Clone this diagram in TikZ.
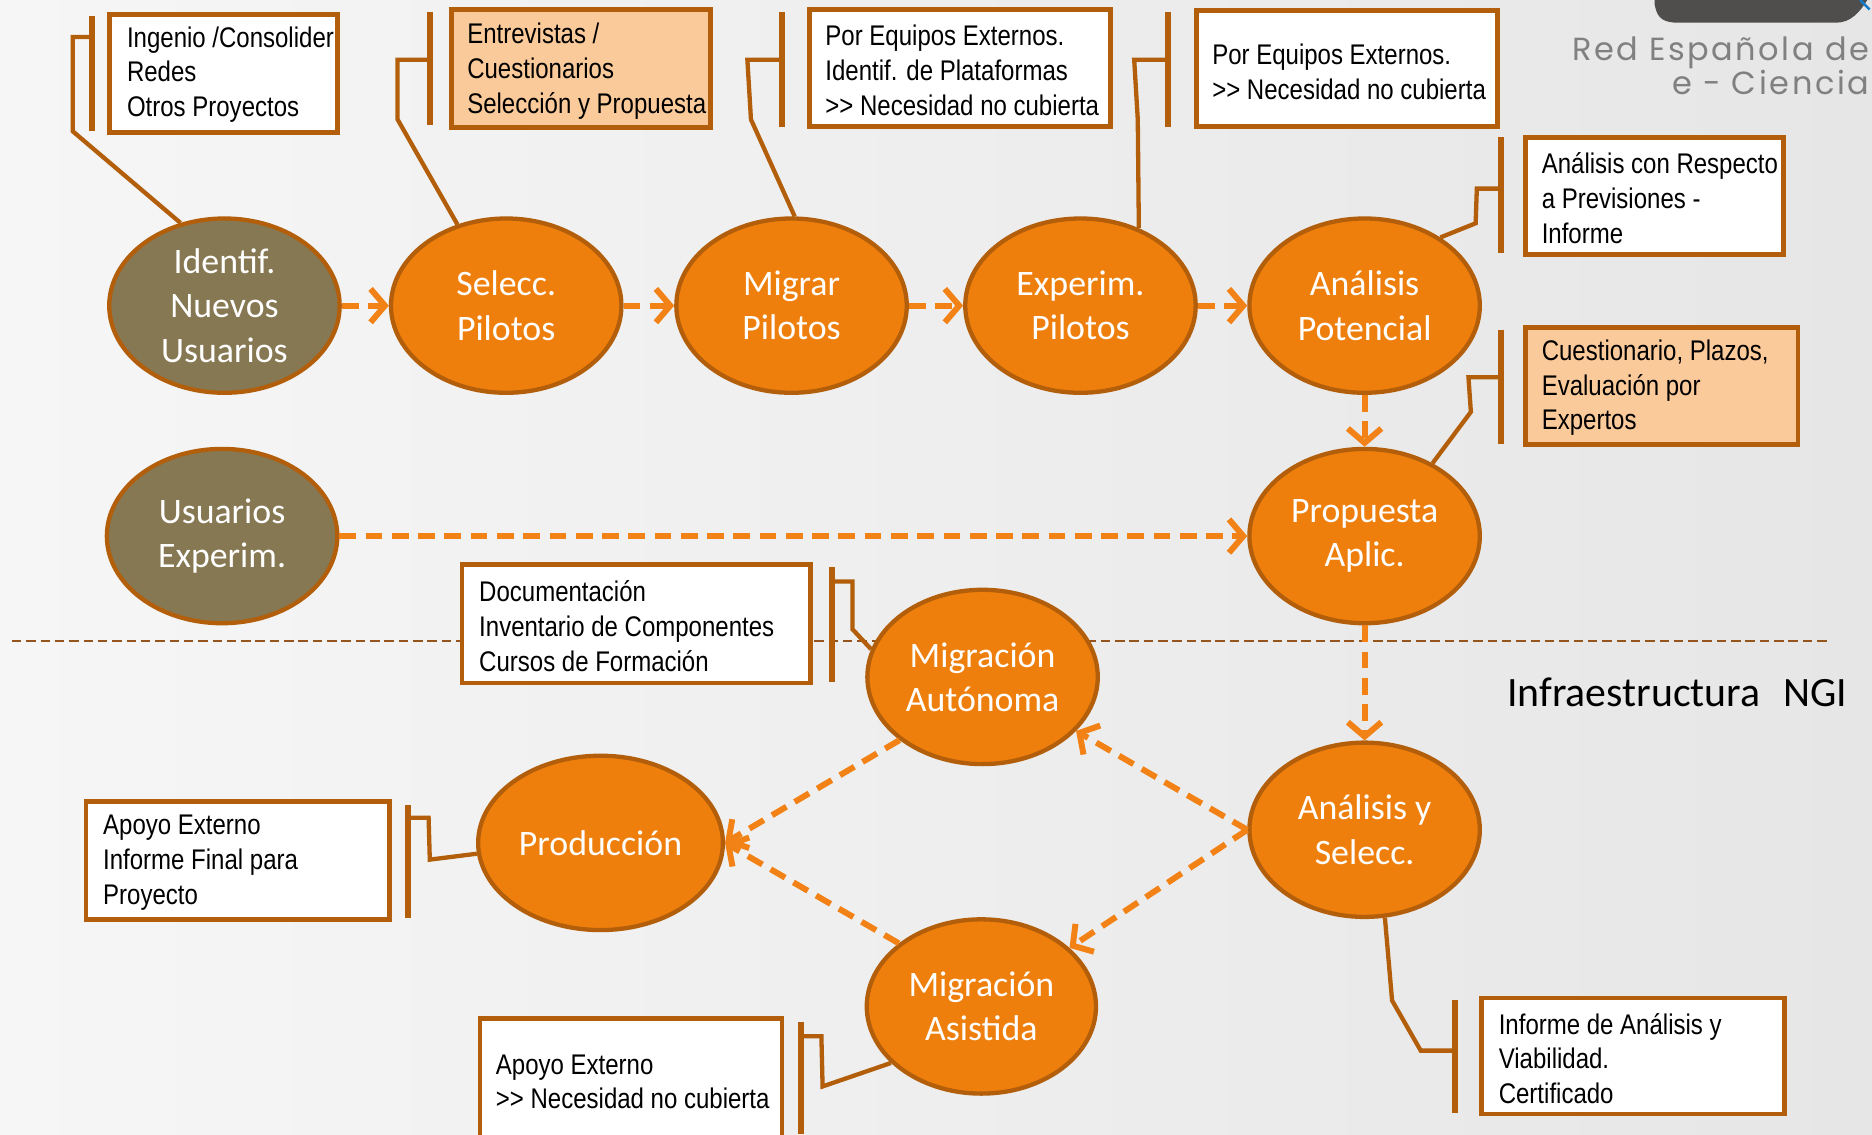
\documentclass[tikz,border=0pt]{standalone}
\usepackage{fontspec}
\setmainfont{Carlito}
\newfontfamily\boxfont[FakeStretch=0.845]{Liberation Sans}
\newfontfamily\logofont[LetterSpace=8]{Poppins}
\usetikzlibrary{shapes.geometric,arrows.meta,calc}
\definecolor{orfill}{RGB}{239,127,12}
\definecolor{ordraw}{RGB}{178,94,10}
\definecolor{olivefill}{RGB}{134,120,82}
\definecolor{peach}{RGB}{251,202,154}
\definecolor{arrowor}{RGB}{242,130,22}
\definecolor{divcol}{RGB}{150,85,30}
\definecolor{bgl}{RGB}{246,246,246}
\definecolor{bgr}{RGB}{230,230,230}
\definecolor{logodark}{RGB}{80,78,76}
\definecolor{logogray}{RGB}{128,128,128}
\begin{document}
\begin{tikzpicture}[x=0.5pt,y=-0.5pt,
  proc/.style={ellipse, draw=ordraw, line width=1.8pt, fill=orfill, minimum width=96.5pt, minimum height=73pt, inner sep=0pt, text=white, align=center, font=\fontsize{15}{18.5}\selectfont},
  user/.style={proc, fill=olivefill},
  infobox/.style={draw=ordraw, line width=2pt, fill=white, inner sep=0pt},
  peachbox/.style={infobox, fill=peach},
  boxtext/.style={anchor=west, align=left, inner sep=0pt, font=\boxfont\fontsize{11.9}{14.5}\selectfont},
  bar/.style={draw=ordraw, line width=2.5pt},
  callout/.style={draw=ordraw, line width=1.8pt, line join=miter},
  flow/.style={draw=arrowor, line width=2.5pt, dash pattern=on 7pt off 4pt, -{Straight Barb[length=6pt,width=14pt]}},
  divider/.style={draw=divcol, line width=0.8pt, dash pattern=on 4pt off 2pt},
  logotext/.style={anchor=base east, text=logogray, inner sep=0pt, font=\logofont\fontsize{13.4}{14}\selectfont},
]
\useasboundingbox (0,0) rectangle (1568,950);
\fill[left color=bgl, right color=bgr] (0,0) rectangle (1568,950);

% logo
\fill[logodark] (1386,0) -- (1386,4) .. controls (1388,16) and (1394,19) .. (1406,19) -- (1538,19) .. controls (1550,19) and (1558,10) .. (1564,0) -- cycle;
\draw[cyan!60!blue, line width=1pt] (1558,0) -- (1566,8);
\node[logotext] (logo1) at (1566,51) {Red Española de};
\node[logotext] (logo2) at (1566,79) {e - Ciencia};

% divider
\coordinate (dl) at (10,537);
\coordinate (dr) at (1530,537);
\draw[divider] (dl) -- (dr);
\node[anchor=base west, inner sep=0pt, font=\fontsize{17.5}{20}\selectfont] (infra) at (1262,592) {Infraestructura\hspace{0.55em}NGI};

% process nodes
\node[user] (n1) at (188,256) {Identif.\\Nuevos\\Usuarios};
\node[proc] (n2) at (424,256) {Selecc.\\Pilotos};
\node[proc] (n3) at (663,256) {Migrar\\Pilotos};
\node[proc] (n4) at (905,256) {Experim.\\Pilotos};
\node[proc] (n5) at (1143,256) {Análisis\\Potencial};
\node[proc] (n6) at (1143,449) {Propuesta\\Aplic.};
\node[user] (n7) at (186,449) {Usuarios\\Experim.};
\node[proc] (n8) at (823,567) {Migración\\Autónoma};
\node[proc] (n9) at (1143,695) {Análisis y\\Selecc.};
\node[proc, minimum width=102.5pt] (n10) at (503,706) {Producción};
\node[proc, minimum width=96pt] (n11) at (822,843) {Migración\\Asistida};

% flows
\draw[flow] (n1) -- (n2);
\draw[flow] (n2) -- (n3);
\draw[flow] (n3) -- (n4);
\draw[flow] (n4) -- (n5);
\draw[flow] (n5) -- (n6);
\draw[flow] (n7) -- (n6);
\draw[flow] (n6) -- (n9);
\draw[flow] (n9.west) -- (n8);
\draw[flow] (n9.west) -- (n11);
\draw[flow] (n8.south west) -- (n10.east);
\draw[flow] (n11.north west) -- (n10.east);

% info boxes
\node[infobox, minimum width=95.5pt, minimum height=49.5pt] (b1) at (187.5,61.5) {};
\node[boxtext] (t1) at (106,62.5) {Ingenio /Consolider\\Redes\\Otros Proyectos};
\draw[bar] (77,13) -- (77,110);
\draw[callout] (77,31) -- (61,31) -- (61,110) -- (n1.118);

\node[peachbox, minimum width=108.5pt, minimum height=49.5pt] (b2) at (486.5,57.5) {};
\node[boxtext] (t2) at (391,59.5) {Entrevistas /\\Cuestionarios\\Selección y Propuesta};
\draw[bar] (360,10) -- (360,105);
\draw[callout] (360,50) -- (333,50) -- (333,100) -- (n2.121);

\node[infobox, minimum width=126pt, minimum height=49pt] (b3) at (804,57) {};
\node[boxtext] (t3) at (691,59) {Por Equipos Externos.\\Identif. de Plataformas\\>{}> Necesidad no cubierta};
\draw[bar] (655,10) -- (655,106);
\draw[callout] (655,50) -- (626,50) -- (629,100) -- (n3.88);

\node[infobox, minimum width=126pt, minimum height=48.5pt] (b4) at (1128,57.5) {};
\node[boxtext] (t4) at (1015,60) {Por Equipos Externos.\\>{}> Necesidad no cubierta};
\draw[bar] (978,10) -- (978,106);
\draw[callout] (978,50) -- (950,50) -- (953,100) -- (n4.53);

\node[infobox, minimum width=108pt, minimum height=49pt] (b5) at (1386,164) {};
\node[boxtext] (t5) at (1291,166) {Análisis con Respecto\\a Previsiones -\\Informe};
\draw[bar] (1257,115) -- (1257,212);
\draw[callout] (1257,158) -- (1237,158) -- (1236,187) -- (n5.42);

\node[peachbox, minimum width=114pt, minimum height=49pt] (b6) at (1392,323) {};
\node[boxtext] (t6) at (1291,325) {Cuestionario, Plazos,\\Evaluación por\\Expertos};
\draw[bar] (1257,276) -- (1257,372);
\draw[callout] (1257,316) -- (1230,316) -- (1232,345) -- (n6.47);

\node[infobox, minimum width=146pt, minimum height=49.5pt] (b7) at (533,522.5) {};
\node[boxtext] (t7) at (401,524.5) {Documentación\\Inventario de Componentes\\Cursos de Formación};
\draw[bar] (697,475) -- (697,571);
\draw[callout] (697,487) -- (714,487) -- (714,527) -- (n8.166);

\node[infobox, minimum width=127pt, minimum height=49.5pt] (b8) at (199,720.5) {};
\node[boxtext] (t8) at (86,722.5) {Apoyo Externo\\Informe Final para\\Proyecto};
\draw[bar] (342,674) -- (342,769);
\draw[callout] (342,685) -- (359,685) -- (360,720) -- (n10.185);

\node[infobox, minimum width=126.5pt, minimum height=51pt] (b9) at (528.5,904) {};
\node[boxtext] (t9) at (415,906) {Apoyo Externo\\>{}> Necesidad no cubierta};
\draw[bar] (671,856) -- (671,950);
\draw[callout] (671,868) -- (688,868) -- (689,910) -- (n11.212);

\node[infobox, minimum width=127pt, minimum height=48.5pt] (b10) at (1368,884.5) {};
\node[boxtext] (t10) at (1255,886.5) {Informe de Análisis y\\Viabilidad.\\Certificado};
\draw[bar] (1219,838) -- (1219,932);
\draw[callout] (1219,880) -- (1190,880) -- (1166,838) -- (n9.283);
\end{tikzpicture}
\end{document}
